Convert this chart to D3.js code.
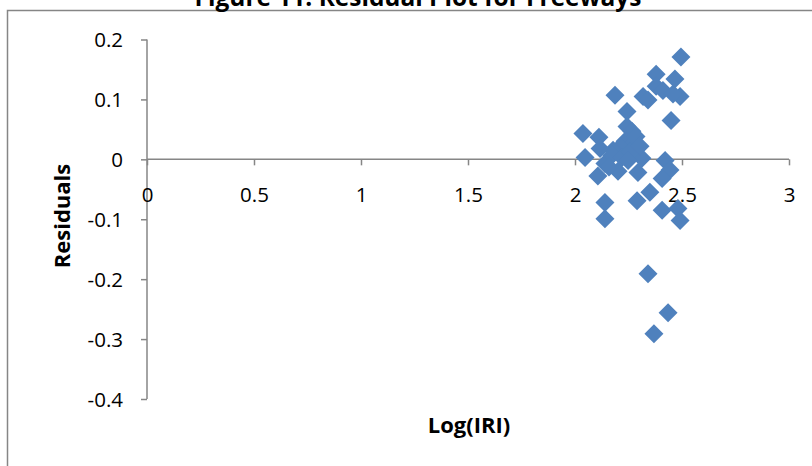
<!DOCTYPE html>
<html><head><meta charset="utf-8">
<script src="https://cdn.jsdelivr.net/npm/d3@7"></script>
<style>body{margin:0;background:#fff}svg{display:block}</style>
</head><body>
<svg id="c" width="812" height="466"></svg>
<script>
const titleText = "Figure 11: Residual Plot for Freeways";
const xTitle = "Log(IRI)";
const yTitle = "Residuals";
const xTicks = [0, 0.5, 1, 1.5, 2, 2.5, 3];
const yTicks = [0.2, 0.1, 0, -0.1, -0.2, -0.3, -0.4];
const logIRI = [2.495,2.379,2.467,2.187,2.379,2.411,2.318,2.491,2.458,2.449,2.243,2.243,2.266,2.037,2.112,2.234,2.262,2.210,2.178,2.117,2.047,2.140,2.107,2.201,2.313,2.294,2.421,2.444,2.407,2.350,2.290,2.140,2.140,2.407,2.481,2.491,2.341,2.435,2.369,2.173,2.220,2.257,2.285,2.248,2.159,2.304,2.341];
const residuals = [0.171,0.142,0.134,0.107,0.122,0.115,0.105,0.105,0.109,0.065,0.080,0.055,0.047,0.043,0.037,0.030,0.023,0.020,0.015,0.018,0.003,-0.007,-0.028,-0.020,0.002,-0.022,-0.002,-0.018,-0.032,-0.055,-0.069,-0.072,-0.099,-0.085,-0.082,-0.102,-0.191,-0.256,-0.291,0.007,0.003,0.012,0.038,-0.002,-0.013,0.022,0.099];

const svg = d3.select("#c");
const font = "'Open Sans', Calibri, sans-serif";
const axisCol = "#868686";
const fmt = d => String(+d.toFixed(2));

// chart area border (extends beyond visible frame)
svg.append("rect").attr("x", 7.5).attr("y", 10.5).attr("width", 900).attr("height", 600)
  .attr("fill", "#fff").attr("stroke", axisCol).attr("stroke-width", 1.5);

// title (partially cropped at top, as in the reference)
const t = svg.append("text").attr("x", 418).attr("y", 6).attr("text-anchor", "middle")
  .attr("font-family", font).attr("font-weight", "bold").attr("font-size", 20).text(titleText);
const tw = t.node().getComputedTextLength();
t.attr("font-size", 20 * 447 / tw);

const x = d3.scaleLinear().domain([0, 3]).range([147, 789]);
const y = d3.scaleLinear().domain([-0.4, 0.2]).range([399, 39.5]);

// y axis
const yAxis = svg.append("g").attr("transform", `translate(${x(0)},0)`)
  .call(d3.axisLeft(y).tickValues(yTicks).tickSize(6).tickPadding(18).tickFormat(fmt));
// x axis at y=0
const xAxis = svg.append("g").attr("transform", `translate(0,${y(0)})`)
  .call(d3.axisBottom(x).tickValues(xTicks).tickSize(6).tickPadding(22).tickFormat(fmt));
[yAxis, xAxis].forEach(g => {
  g.select(".domain").attr("stroke", axisCol).attr("stroke-width", 1.5);
  g.selectAll(".tick line").attr("stroke", axisCol).attr("stroke-width", 1.5);
  g.selectAll(".tick text").attr("fill", "#000").attr("font-family", font).attr("font-size", 20.5);
});
yAxis.select(".domain").attr("d", `M0,${y(0.2)}V${y(-0.4)}`);
xAxis.select(".domain").attr("d", `M${x(0)},0H${x(3)}`);
yAxis.selectAll(".tick text").attr("dy", "0.35em");
xAxis.selectAll(".tick text").attr("dy", "0.71em");

// points
const pts = logIRI.map((v, i) => ({x: v, y: residuals[i]}));
const r = 9.5;
svg.append("g").selectAll("path").data(pts).join("path")
  .attr("d", d => `M${x(d.x)},${y(d.y) - r}L${x(d.x) + r},${y(d.y)}L${x(d.x)},${y(d.y) + r}L${x(d.x) - r},${y(d.y)}Z`)
  .attr("fill", "#4F81BD");

// axis titles
svg.append("text").attr("x", 469).attr("y", 433).attr("text-anchor", "middle")
  .attr("font-family", font).attr("font-weight", "bold").attr("font-size", 22).text(xTitle);
svg.append("text").attr("transform", "translate(70,216) rotate(-90)").attr("text-anchor", "middle")
  .attr("font-family", font).attr("font-weight", "bold").attr("font-size", 22).text(yTitle);
</script>
</body></html>
